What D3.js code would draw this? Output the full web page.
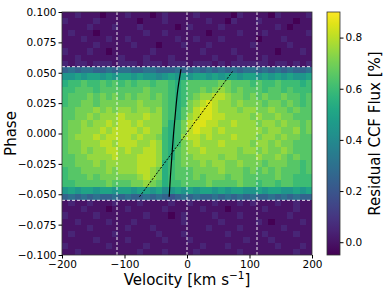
<!DOCTYPE html>
<html>
<head>
<meta charset="utf-8">
<script src="https://cdn.jsdelivr.net/npm/d3@7"></script>
<style>
  body { margin: 0; background: #fff; }
  svg { display: block; font-family: "DejaVu Sans", sans-serif; }
</style>
</head>
<body>
<div id="chart"></div>
<script>
// tick labels
var velocityTicks = [-200, -100, 0, 100, 200];
var phaseTicks = [-0.1, -0.075, -0.05, -0.025, 0, 0.025, 0.05, 0.075, 0.1];
var cbarTicks = [0, 0.2, 0.4, 0.6, 0.8];

// velocity bins (km/s)
var velocityEdges = [-200, -190, -180, -170, -160, -150, -140, -130, -120, -110,
  -100, -90, -80, -70, -60, -50, -40, -30, -20, -10, 0, 10, 20, 30, 40, 50, 60,
  70, 80, 90, 100, 110, 120, 130, 140, 150, 160, 170, 180, 190, 200];

// phase bins, top to bottom
var phaseEdges = [0.1, 0.095, 0.09, 0.085, 0.08, 0.075, 0.07, 0.065, 0.06, 0.055,
  0.0495, 0.044, 0.0385, 0.033, 0.0275, 0.022, 0.0165, 0.011, 0.0055, 0,
  -0.0055, -0.011, -0.0165, -0.022, -0.0275, -0.033, -0.0385, -0.044, -0.0495, -0.055,
  -0.06, -0.065, -0.07, -0.075, -0.08, -0.085, -0.09, -0.095, -0.1];

// flux levels: char index in levelKey -> -0.05 + 0.05*index (%)
var levelKey = "0123456789ABCDEFGHIJ";

var fluxBefore = [
  "1121110111211101211112111110211110211112",
  "2111121111110111211111121102111211111011",
  "1111211121112111110121111211111111210111",
  "1211101111111211211111101111211121111112",
  "1112111211211111112112111211111011121111",
  "1111121111121110111211121111112111112111",
  "2111211011111121111111211112111111011121",
  "1121111112111211121111112111211121111111",
  "2122122212221222122212221212222221221212"
];

var fluxTransit = [
  "6767766767766776667667676767677676767667",
  "AABABBABABBABAA9ABABABBABABBABBABABABAAB",
  "CDDEDDEDEDEDEEDEEDCDEEEEEFFEEEDEDDEDDDCD",
  "DDEEEDEEEEEEEFEEEDCDEEFEFGFEFEEEDEEDEDDD",
  "DEEEFEFEFEFEFFEFEDCDEFGGHHGFFEFEFEEFEEDE",
  "DEEFFEFFFFFFGFFFEDCDFGHIHGGFGFFFEFFEFEDE",
  "EEFFFGFGFGGFGGFGEDCEFHIIHGGGFGGFFGFFEFEE",
  "EEFFGFGGGHGGGHGGEDCEGHIIHHGGGGFGFFGFFEEE",
  "EFFGFGGHGHHGHGGGECDFHIIHHGGHGGGFGGFGFFEF",
  "EFFGGGHGHHHHGHGGDCDFHIHHGHGGGGGGFGGFFGEF",
  "EFGGGHGHHHHGHGGFDCDGHHGHGGGHGGGFGGFGFFEE",
  "EFFGGGHHGHHHGGHGDCDFGHGGGHGGGGFGGFGFFEEE",
  "EFFGFGGHHGHGGHHGDCEFGGHGGGGGFGGFGFFGFEEE",
  "EEFFGGGGHGGGHHHGDCEFFGGGGFGGFFFGFFGFEFEE",
  "EEFFFGFGGGGGHHHGCDEFFFGFGGFFGFFFEFFFEEDE",
  "DEEFFFFGFGGGHHGFCDEEEFFFFGFFFEFEFEFEEEDE",
  "DEEEFEFFFFFFGHGFCDEEEFEFFFEFFEEEEEFEEDDD",
  "DDEEEEEFEEEFFGFECDDEEEEFEEEEFEEDEEDEEDDD",
  "ABABBABBABBABBAB9ABABABBABABBAABABBAABAB",
  "6767676676766767656767667676767667676766"
];

var fluxAfter = [
  "1211211121112111121121112111212111211211",
  "1112111011211111211111211101111121111211",
  "2111121111111211101211112111211111112111",
  "1121111211121111111211111211111210111121",
  "1111211111211121111111121111211111121111",
  "1211111121111112111211111121111121111211",
  "1111121111211111211121111111121112111111",
  "2111111211111211111111211121111111211121",
  "1121111111112111211112111111211111111211"
];

// planet shadow track (solid) and stellar surface track (dashed)
var trackPhase = [-0.052, -0.035, -0.017, 0, 0.016, 0.035, 0.053];
var trackVel = [-28.5, -26.5, -24, -21.5, -18.7, -15, -9.6];
var linePhase = [-0.052, 0.0515];
var lineVel = [-76, 73.5];

// white reference lines
var refVel = [-112, 0, 112];
var refPhase = [0.055, -0.055];

var W = 390, H = 293;
var plot = {left: 62, right: 312, top: 12, bottom: 255};

var svg = d3.select("#chart").append("svg")
    .attr("width", W)
    .attr("height", H);

svg.append("rect").attr("width", W).attr("height", H).attr("fill", "#fff");

var x = d3.scaleLinear().domain([-200, 200]).range([plot.left, plot.right]);
var y = d3.scaleLinear().domain([-0.1, 0.1]).range([plot.bottom, plot.top]);
var color = d3.scaleSequential(d3.interpolateViridis).domain([-0.05, 0.9]);

var rows = fluxBefore.concat(fluxTransit, fluxAfter);
var cells = [];
rows.forEach(function(r, i) {
  for (var j = 0; j < r.length; j++) {
    cells.push({
      v0: velocityEdges[j], v1: velocityEdges[j + 1],
      p0: phaseEdges[i], p1: phaseEdges[i + 1],
      value: -0.05 + 0.05 * levelKey.indexOf(r[j])
    });
  }
});

svg.append("g")
    .attr("shape-rendering", "crispEdges")
  .selectAll("rect")
  .data(cells)
  .enter().append("rect")
    .attr("x", function(d) { return x(d.v0); })
    .attr("y", function(d) { return y(d.p0); })
    .attr("width", function(d) { return x(d.v1) - x(d.v0) + 0.4; })
    .attr("height", function(d) { return y(d.p1) - y(d.p0) + 0.4; })
    .attr("fill", function(d) { return color(d.value); });

// reference lines
svg.append("g").selectAll("line")
  .data(refVel)
  .enter().append("line")
    .attr("x1", function(d) { return x(d); })
    .attr("x2", function(d) { return x(d); })
    .attr("y1", plot.top).attr("y2", plot.bottom)
    .attr("stroke", "#fff").attr("stroke-width", 0.9)
    .attr("stroke-dasharray", "3,2");

svg.append("g").selectAll("line")
  .data(refPhase)
  .enter().append("line")
    .attr("y1", function(d) { return y(d); })
    .attr("y2", function(d) { return y(d); })
    .attr("x1", plot.left).attr("x2", plot.right)
    .attr("stroke", "#fff").attr("stroke-width", 0.9)
    .attr("stroke-dasharray", "3,2");

var track = d3.line()
    .x(function(d) { return x(d[1]); })
    .y(function(d) { return y(d[0]); })
    .curve(d3.curveMonotoneY);

svg.append("path")
    .datum(d3.zip(trackPhase, trackVel))
    .attr("d", track)
    .attr("fill", "none")
    .attr("stroke", "#000")
    .attr("stroke-width", 1.2);

svg.append("path")
    .datum(d3.zip(linePhase, lineVel))
    .attr("d", d3.line().x(function(d) { return x(d[1]); }).y(function(d) { return y(d[0]); }))
    .attr("fill", "none")
    .attr("stroke", "#000")
    .attr("stroke-width", 1)
    .attr("stroke-dasharray", "2,1.5");

// frame
svg.append("rect")
    .attr("x", plot.left).attr("y", plot.top)
    .attr("width", plot.right - plot.left).attr("height", plot.bottom - plot.top)
    .attr("fill", "none").attr("stroke", "#333").attr("stroke-width", 0.8);

var fmt = d3.format(".3f");

svg.append("g")
    .attr("transform", "translate(0," + plot.bottom + ")")
    .call(d3.axisBottom(x).tickValues(velocityTicks).tickSize(3.5).tickPadding(2))
    .call(function(g) { g.select(".domain").remove(); })
    .attr("font-size", 10.5).attr("font-family", "DejaVu Sans");

svg.append("g")
    .attr("transform", "translate(" + plot.left + ",0)")
    .call(d3.axisLeft(y).tickValues(phaseTicks).tickFormat(fmt).tickSize(3.5).tickPadding(2))
    .call(function(g) { g.select(".domain").remove(); })
    .attr("font-size", 10.5).attr("font-family", "DejaVu Sans");

svg.selectAll(".tick text").attr("fill", "#000");

var xlab = svg.append("text")
    .attr("x", (plot.left + plot.right) / 2)
    .attr("y", 285)
    .attr("text-anchor", "middle")
    .attr("font-size", 15)
    .text("Velocity [km s");
xlab.append("tspan").attr("dy", -6).attr("font-size", 10.5).text("\u22121");
xlab.append("tspan").attr("dy", 6).text("]");

svg.append("text")
    .attr("transform", "translate(16," + (plot.top + plot.bottom) / 2 + ") rotate(-90)")
    .attr("text-anchor", "middle")
    .attr("font-size", 15)
    .text("Phase");

// colour bar
var cb = {left: 327, right: 340};
var cy = d3.scaleLinear().domain([-0.05, 0.9]).range([plot.bottom, plot.top]);

var grad = svg.append("defs").append("linearGradient")
    .attr("id", "viridis")
    .attr("x1", 0).attr("y1", 1).attr("x2", 0).attr("y2", 0);
d3.range(0, 1.0001, 0.05).forEach(function(t) {
  grad.append("stop").attr("offset", t).attr("stop-color", d3.interpolateViridis(t));
});

svg.append("rect")
    .attr("x", cb.left).attr("y", plot.top)
    .attr("width", cb.right - cb.left).attr("height", plot.bottom - plot.top)
    .attr("fill", "url(#viridis)")
    .attr("stroke", "#333").attr("stroke-width", 0.8);

svg.append("g")
    .attr("transform", "translate(" + cb.right + ",0)")
    .call(d3.axisRight(cy).tickValues(cbarTicks).tickFormat(d3.format(".1f")).tickSize(3.5).tickPadding(2))
    .call(function(g) { g.select(".domain").remove(); })
    .attr("font-size", 10.5).attr("font-family", "DejaVu Sans");

svg.append("text")
    .attr("transform", "translate(380," + (plot.top + plot.bottom) / 2 + ") rotate(-90)")
    .attr("text-anchor", "middle")
    .attr("font-size", 15)
    .text("Residual CCF Flux [%]");
</script>
</body>
</html>
